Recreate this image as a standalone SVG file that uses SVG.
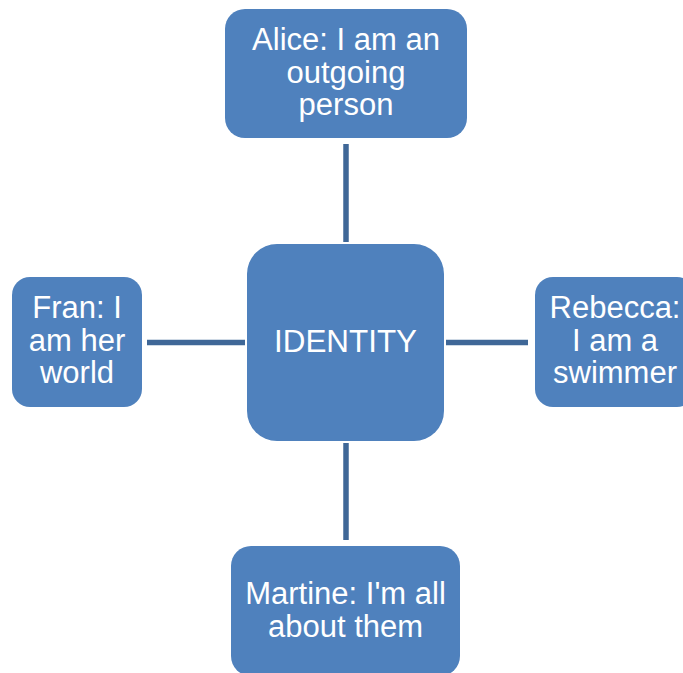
<svg xmlns="http://www.w3.org/2000/svg" width="683" height="673" viewBox="0 0 683 673">
<style>
.node{fill:#4F81BD;}
.lbl{fill:#FFFFFF;font-family:"Liberation Sans",Arial,sans-serif;font-size:31px;text-anchor:middle;}
.conn{stroke:#3F6797;stroke-width:5.5;fill:none;}
</style>
<rect width="683" height="673" fill="#FFFFFF"/>
<g id="connectors">
<line class="conn" x1="346" y1="144" x2="346" y2="242"/>
<line class="conn" x1="346" y1="443" x2="346" y2="540"/>
<line class="conn" x1="147" y1="342.5" x2="245" y2="342.5"/>
<line class="conn" x1="446" y1="342.5" x2="528" y2="342.5"/>
</g>
<g id="identity">
<rect class="node" x="247" y="244" width="197" height="197" rx="30"/>
<text class="lbl" x="345.5" y="352" textLength="143" lengthAdjust="spacingAndGlyphs">IDENTITY</text>
</g>
<g id="alice">
<rect class="node" x="225" y="9" width="242" height="129" rx="20"/>
<text class="lbl" x="346" y="50">Alice: I am an</text>
<text class="lbl" x="346" y="83">outgoing</text>
<text class="lbl" x="346" y="115">person</text>
</g>
<g id="fran">
<rect class="node" x="12" y="277" width="130" height="130" rx="18"/>
<text class="lbl" x="77" y="318">Fran: I</text>
<text class="lbl" x="77" y="351">am her</text>
<text class="lbl" x="77" y="383">world</text>
</g>
<g id="rebecca">
<rect class="node" x="535" y="277" width="160" height="130" rx="18"/>
<text class="lbl" x="615" y="318">Rebecca:</text>
<text class="lbl" x="615" y="351">I am a</text>
<text class="lbl" x="615" y="383">swimmer</text>
</g>
<g id="martine">
<rect class="node" x="231" y="546" width="229" height="130" rx="20"/>
<text class="lbl" x="345.5" y="604">Martine: I'm all</text>
<text class="lbl" x="345.5" y="637">about them</text>
</g>
</svg>
